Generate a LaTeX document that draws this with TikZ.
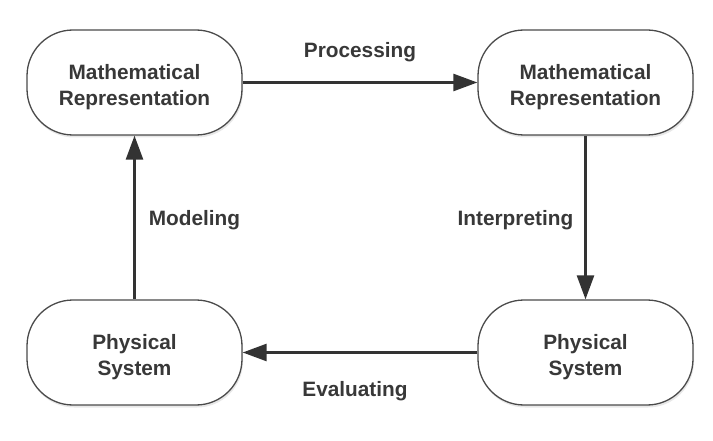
\documentclass[tikz,border=0pt]{standalone}
\usepackage{fontspec}
\setmainfont{Liberation Sans}
\usetikzlibrary{arrows.meta,positioning,shadows}

\definecolor{boxline}{HTML}{4A4A4A}
\definecolor{arrowcol}{HTML}{333333}
\definecolor{textcol}{HTML}{383838}

\begin{document}
\begin{tikzpicture}[x=1pt,y=1pt,
        stage/.style={draw=boxline,line width=1.3pt,fill=white,
            rounded corners=46pt,minimum width=215pt,minimum height=105pt,
            inner sep=0pt,align=center,text=textcol,text height=50pt,
            font=\fontsize{20.8}{26}\selectfont\bfseries,
            drop shadow={opacity=0.18,shadow xshift=1pt,shadow yshift=-2.5pt}},
        step label/.style={inner sep=0pt,text=textcol,
            font=\fontsize{20.8}{25}\selectfont\bfseries},
        flow/.style={draw=arrowcol,line width=2.6pt,
            -{Triangle[length=24pt,width=17pt]}}]
        % keep the page the size of the reference
        \useasboundingbox (0,0) rectangle (713,440);

        % the four stages
        \node[stage] (mathA) at (134.5,357.5) {Mathematical\\Representation};
        \node[stage] (mathB) at (585.5,357.5) {Mathematical\\Representation};
        \node[stage] (physA) at (134.5,87.5)  {Physical\\System};
        \node[stage] (physB) at (585.5,87.5)  {Physical\\System};

        % the cycle between them
        \draw[flow] (mathA) -- node[step label,midway,above=19pt] {Processing} (mathB);
        \draw[flow] (mathB) -- node[step label,midway,left=11pt,yshift=-3pt] {Interpreting} (physB);
        \draw[flow] (physB) -- node[step label,midway,below=28pt,xshift=-5pt] {Evaluating} (physA);
        \draw[flow] (physA) -- node[step label,midway,right=13pt,yshift=-3pt] {Modeling} (mathA);
\end{tikzpicture}
\end{document}
